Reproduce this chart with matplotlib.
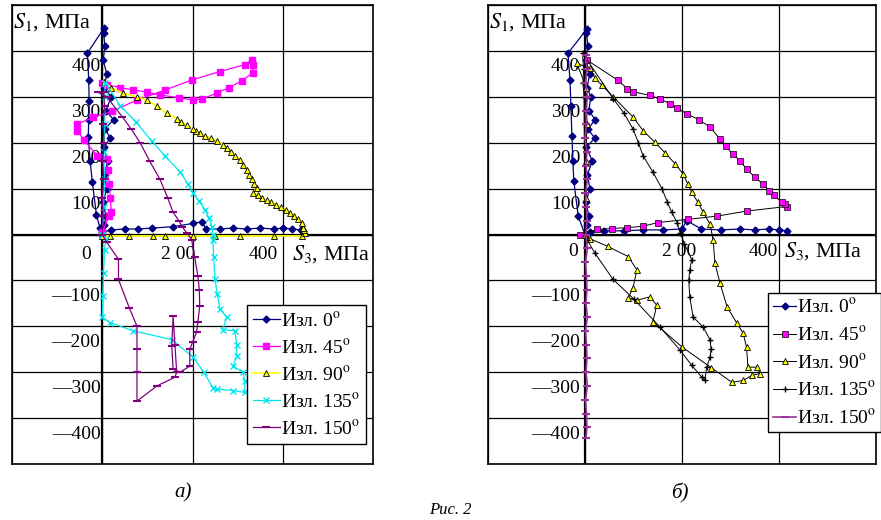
import matplotlib.pyplot as plt

plt.rcParams['font.family'] = ['Liberation Serif', 'DejaVu Serif']
plt.rcParams['mathtext.fontset'] = 'stix'

# ---- chart a) ----
a0_s3 = [0, 4, 8, 2, 10, 5, 12, 3, 18, 6, 25, 8, 20, 4, 10, 2, 6, 3, 4,
         -33, -30, -29, -30, -31, -27, -22, -13, -5, 0,
         20, 50, 80, 110, 157, 200, 221, 230, 260, 290, 320, 350, 380, 400, 420, 440, 444]
a0_s1 = [0, 20, 40, 70, 100, 130, 160, 190, 210, 230, 250, 270, 300, 320, 350, 380, 410, 440, 450,
         395, 337, 290, 250, 213, 160, 115, 43, 15, 5,
         10, 12, 12, 14, 17, 24, 28, 12, 12, 14, 12, 14, 12, 14, 12, 10, 8]

a45_s3 = [0, 15, 20, 18, 15, 12, 10, -11, -40, -55, -55, -20, 21, 77, 140, 199, 261, 316, 331,
          335, 333, 310, 280, 254, 220, 201, 170, 128, 100, 69, 40, 11, 0]
a45_s1 = [5, 40, 50, 80, 110, 140, 165, 172, 205, 225, 241, 255, 268, 293, 315, 337, 355, 370, 380,
          370, 352, 335, 320, 308, 295, 293, 298, 304, 310, 315, 320, 326, 330]

a90_s3 = [0, 18, 60, 113, 139, 201, 250, 305, 380, 442, 449, 447, 445, 442, 433, 425, 416, 408, 396,
          385, 375, 364, 355, 345, 334, 342, 337, 331, 325, 320, 312, 305, 295, 285, 277, 268, 255,
          240, 228, 217, 208, 200, 187, 175, 165, 143, 121, 99, 77, 46, 20, 3]
a90_s1 = [-3, -3, -3, -3, -3, -3, -3, -3, -3, -3, 4, 10, 15, 26, 33, 40, 47, 54, 60,
          65, 70, 76, 80, 85, 91, 102, 110, 120, 130, 140, 152, 163, 172, 180, 188, 196, 203,
          210, 215, 221, 226, 230, 239, 246, 252, 264, 280, 293, 300, 308, 320, 333]

a135_s3 = [0, 3, 5, 3, 6, 5, 7, 40, 75, 110, 140, 172, 190, 201, 215, 228, 237, 243, 245,
           245, 247, 250, 255, 261, 276, 267, 294, 298, 298, 290, 312, 316, 316, 290, 254, 246,
           225, 201, 154, 69, 18, 0, 1, 3, 5, 8, 0]
a135_s1 = [0, 60, 120, 180, 240, 300, 330, 280, 245, 203, 170, 137, 110, 91, 72, 54, 35, 17, 0,
           -11, -50, -98, -130, -163, -180, -207, -210, -240, -265, -287, -300, -320, -344, -340, -337, -335,
           -300, -267, -229, -210, -192, -180, -134, -83, -33, -10, 0]

a150_s3 = [0, 2, 0, 3, 1, 4, 2, 5, 3, -10, 10, 44, 64, 84, 105, 128, 145, 157, 170, 177, 187,
           198, 205, 212, 215, 216, 212, 209, 200, 194, 194, 172, 157, 154, 157, 161, 165, 161,
           121, 77, 77, 77, 77, 60, 36, 36, 10, 0]
a150_s1 = [0, 40, 80, 120, 160, 200, 240, 280, 310, 310, 300, 257, 230, 200, 160, 120, 80, 48, 30, 17, 4,
           -11, -50, -91, -120, -156, -190, -213, -235, -250, -287, -300, -293, -243, -178, -240, -300, -311,
           -330, -363, -300, -250, -200, -160, -98, -54, -17, 0]

# ---- chart б) ----
b0_s3 = [0, 4, 8, 2, 10, 5, 15, 3, 20, 6, 21, 8, 12, 4, 10, 2, 6, 3, 4,
         -35, -31, -29, -27, -25, -23, -14, 0,
         10, 40, 80, 120, 160, 200, 210, 240, 280, 320, 350, 380, 400, 416]
b0_s1 = [0, 20, 40, 70, 100, 130, 160, 190, 210, 230, 250, 270, 300, 320, 350, 380, 410, 440, 448,
         395, 336, 280, 215, 160, 116, 40, 0,
         5, 8, 8, 10, 10, 12, 30, 12, 10, 12, 10, 12, 10, 8]

b45_s3 = [-10, 25, 56, 87, 120, 150, 212, 272, 333, 416, 412, 406, 390, 380, 367, 350, 333, 320,
          305, 290, 278, 258, 235, 210, 190, 175, 155, 134, 99, 87, 68, 4]
b45_s1 = [0, 11, 13, 15, 18, 26, 33, 40, 51, 61, 66, 70, 85, 95, 110, 125, 143, 160,
          175, 192, 208, 234, 250, 263, 275, 285, 295, 303, 311, 318, 336, 380]

b90_s3 = [0, 3, 2, 4, 3, -17, 10, 21, 35, 58, 99, 120, 144, 165, 186, 202, 212, 220, 233, 244, 258,
          264, 268, 278, 293, 313, 326, 333, 336, 355, 361, 344, 326, 303, 260, 200, 140, 148,
          134, 107, 89, 99, 107, 89, 47, 10, 0]
b90_s1 = [0, 80, 160, 240, 320, 373, 362, 340, 325, 300, 256, 226, 201, 178, 154, 132, 110, 92, 70, 48, 22,
          -11, -62, -105, -158, -193, -215, -245, -289, -289, -303, -307, -318, -322, -290, -245, -190, -154,
          -136, -143, -138, -116, -77, -48, -26, -9, 0]

b135_s3 = [0, -2, -4, -3, -5, 58, 80, 99, 110, 120, 140, 159, 170, 179, 190, 196, 205, 220, 216,
           214, 216, 223, 244, 258, 260, 258, 251, 247, 241, 220, 196, 155, 100, 58, 20, 4, 0]
b135_s1 = [0, 300, 330, 360, 395, 296, 265, 230, 200, 171, 136, 99, 70, 48, 26, 4, -20, -55, -77,
           -100, -136, -180, -202, -230, -250, -267, -289, -318, -311, -285, -252, -202, -140, -98, -40, -11, 0]

b150_s3 = [2, 4, 1, 5, 2, 3, 0, 4, 2, 5, 1, 3, 4, 2, 5, 1, 3, 4, 2, 5, 1, 3, 4, 2, 5, 1, 3, 4, 2]
b150_s1 = [390, 360, 330, 300, 270, 240, 210, 180, 150, 120, 90, 60, 30, 0, -30, -60, -90, -120, -150,
           -180, -210, -240, -270, -300, -330, -360, -390, -420, -443]

legend_labels = ['Изл. 0$^{\\mathrm{o}}$', 'Изл. 45$^{\\mathrm{o}}$', 'Изл. 90$^{\\mathrm{o}}$',
                 'Изл. 135$^{\\mathrm{o}}$', 'Изл. 150$^{\\mathrm{o}}$']
y_labels = [400, 300, 200, 100, -100, -200, -300, -400]


def setupAxes(ax, ylab_x, xlab_pos, s3lab_x, xlab_y):
    ax.set_xlim(-200, 600)
    ax.set_ylim(-500, 500)
    ax.set_xticks(range(-200, 601, 200))
    ax.set_yticks(range(-500, 501, 100))
    ax.grid(True, color='black', lw=0.9)
    ax.set_axisbelow(True)
    ax.tick_params(length=0, labelbottom=False, labelleft=False)
    ax.axhline(0, color='black', lw=1.6, zorder=1)
    ax.axvline(0, color='black', lw=1.6, zorder=1)
    for sp in ax.spines.values():
        sp.set_linewidth(1.2)
    for v in y_labels:
        ax.text(ylab_x, v - 35, str(v).replace('-', '\u2014'), ha='right', va='center', fontsize=14)
    for txt, xp in zip(['0', '2 00', '400'], xlab_pos):
        ax.text(xp, xlab_y, txt, ha='center', va='center', fontsize=14)
    ax.text(s3lab_x, xlab_y, '$S_3$, МПа', ha='left', va='center', fontsize=16)
    ax.text(-200 + 2, 462, '$S_1$, МПа', ha='left', va='center', fontsize=16)


fig = plt.figure(figsize=(8.81, 5.2), dpi=100)
axA = fig.add_axes([12 / 881, 56 / 520, 361 / 881, 459 / 520])
axB = fig.add_axes([488 / 881, 56 / 520, 388 / 881, 459 / 520])

setupAxes(axA, -4, [-35, 168, 356], 420, -43)
setupAxes(axB, -10, [-25, 194, 367], 410, -37)

# chart a)
axA.plot(a0_s3, a0_s1, color='#000080', lw=0.9, marker='D', ms=3.5, label=legend_labels[0], zorder=3)
axA.plot(a45_s3, a45_s1, color='#ff00ff', lw=0.9, marker='s', ms=5, label=legend_labels[1], zorder=3)
axA.plot(a90_s3, a90_s1, color='#ffff00', lw=1.2, marker='^', ms=5, mfc='#ffff00', mec='black',
         mew=0.6, label=legend_labels[2], zorder=3)
axA.plot(a135_s3, a135_s1, color='#00e5ee', lw=0.9, marker='x', ms=4, label=legend_labels[3], zorder=3)
axA.plot(a150_s3, a150_s1, color='#800080', lw=0.9, marker='_', ms=6, mew=1.5, label=legend_labels[4], zorder=3)

legA = axA.legend(loc='upper left', bbox_to_anchor=(0.651, 0.346), fontsize=14, frameon=True,
                  fancybox=False, edgecolor='black', framealpha=1, handlelength=1.4,
                  handletextpad=0.05, labelspacing=0.42, borderpad=0.3, borderaxespad=0)
legA.get_frame().set_linewidth(1.0)

# chart б)
axB.plot(b0_s3, b0_s1, color='#000080', lw=0.9, marker='D', ms=3.5, label=legend_labels[0], zorder=3)
axB.plot(b45_s3, b45_s1, color='black', lw=0.7, marker='s', ms=4.5, mfc='#ff00ff', mec='black',
         mew=0.5, label=legend_labels[1], zorder=3)
axB.plot(b90_s3, b90_s1, color='black', lw=0.7, marker='^', ms=5, mfc='#ffff00', mec='black',
         mew=0.6, label=legend_labels[2], zorder=3)
axB.plot(b135_s3, b135_s1, color='black', lw=0.7, marker='+', ms=4, label=legend_labels[3], zorder=3)
axB.plot(b150_s3, b150_s1, color='#993399', lw=1.2, marker='_', ms=6, mew=1.5, label=legend_labels[4], zorder=3)

legB = axB.legend(loc='upper left', bbox_to_anchor=(0.722, 0.3725), fontsize=14, frameon=True,
                  fancybox=False, edgecolor='black', framealpha=1, handlelength=1.2,
                  handletextpad=0.05, labelspacing=0.45, borderpad=0.25, borderaxespad=0)
legB.get_frame().set_linewidth(1.0)

fig.text(183 / 881, 1 - 493 / 520, 'а)', ha='center', va='center', fontsize=15, style='italic')
fig.text(680 / 881, 1 - 493 / 520, 'б)', ha='center', va='center', fontsize=15, style='italic')
fig.text(450 / 881, 2 / 520, 'Рис. 2', ha='center', va='bottom', fontsize=12, style='italic')

fig.savefig('out.png', dpi=100)
